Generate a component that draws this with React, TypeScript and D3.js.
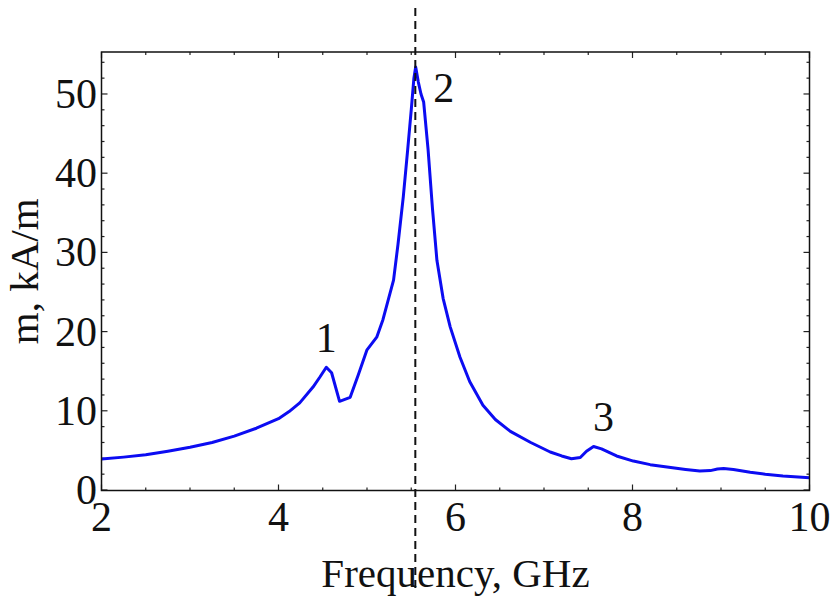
import React from "react";
import * as d3 from "d3";

const freq = [2.0, 2.25, 2.5, 2.75, 3.0, 3.25, 3.5, 3.75, 4.0, 4.12, 4.24, 4.39, 4.47, 4.54, 4.6, 4.69, 4.81, 4.9, 5.0, 5.11, 5.18, 5.24, 5.3, 5.35, 5.41, 5.46, 5.5, 5.53, 5.55, 5.58, 5.61, 5.64, 5.69, 5.74, 5.79, 5.86, 5.94, 6.05, 6.16, 6.31, 6.45, 6.62, 6.85, 7.07, 7.2, 7.31, 7.41, 7.48, 7.56, 7.65, 7.82, 8.01, 8.2, 8.39, 8.6, 8.76, 8.88, 8.96, 9.03, 9.14, 9.33, 9.5, 9.7, 10.0];
const mag = [3.9, 4.15, 4.45, 4.9, 5.4, 6.0, 6.8, 7.8, 9.0, 9.9, 11.0, 13.0, 14.3, 15.5, 14.8, 11.2, 11.7, 14.5, 17.7, 19.3, 21.5, 24.0, 26.5, 31.0, 37.0, 43.0, 48.0, 52.0, 53.4, 51.5, 50.0, 49.0, 43.0, 35.5, 29.0, 24.2, 20.6, 16.8, 13.7, 10.7, 8.9, 7.4, 6.0, 4.8, 4.3, 3.95, 4.1, 4.9, 5.5, 5.2, 4.3, 3.65, 3.2, 2.9, 2.6, 2.4, 2.45, 2.65, 2.7, 2.6, 2.25, 2.0, 1.77, 1.55];

const xTicks = [2, 4, 6, 8, 10];
const yTicks = [0, 10, 20, 30, 40, 50];
const peakLabels = ["1", "2", "3"];
const peakFreq = [4.54, 5.55, 7.56];
const peakVal = [15.5, 53.4, 5.5];
const resonance = 5.546;

const W = 835, H = 597;
const L = 101.5, R = 809.5, T = 52, B = 490.5;

export default function App() {
  const x = d3.scaleLinear().domain([2, 10]).range([L, R]);
  const y = d3.scaleLinear().domain([0, 55.3]).range([490, T]);
  const pts: [number, number][] = freq.map((f, i) => [f, mag[i]]);
  const line = d3.line<[number, number]>().x(d => x(d[0])).y(d => y(d[1]));
  const xMinor = d3.range(2, 10.001, 0.5);
  const yMinor = d3.range(0, 55, 2);
  const font = "'Liberation Serif', 'Times New Roman', serif";
  const labelOffsets = [[0, -15], [28, 35], [10, -15]];
  return (
    <svg width={W} height={H} style={{ position: "absolute", left: 0, top: 0, background: "#fff" }}>
      <g stroke="#222" strokeWidth={1.2}>
        {xMinor.map(v => {
          const major = Number.isInteger(v) && v % 2 === 0;
          const len = major ? 6 : 3;
          return (
            <g key={"xt" + v}>
              <line x1={x(v)} x2={x(v)} y1={B} y2={B - len} />
              <line x1={x(v)} x2={x(v)} y1={T} y2={T + len} />
            </g>
          );
        })}
        {yMinor.map(v => {
          const major = v % 10 === 0;
          const len = major ? 6 : 3;
          return (
            <g key={"yt" + v}>
              <line x1={L} x2={L + len} y1={y(v)} y2={y(v)} />
              <line x1={R} x2={R - len} y1={y(v)} y2={y(v)} />
            </g>
          );
        })}
      </g>
      <path d={line(pts) || ""} fill="none" stroke="#0c0cf2" strokeWidth={3} strokeLinejoin="round" />
      <rect x={L} y={T} width={R - L} height={B - T} fill="none" stroke="#111" strokeWidth={1.5} />
      <line x1={x(resonance)} x2={x(resonance)} y1={8} y2={592} stroke="#111" strokeWidth={2} strokeDasharray="8,5" />
      <g fontFamily={font} fontSize={42} fill="#111">
        {xTicks.map(v => (
          <text key={"xl" + v} x={x(v)} y={531} textAnchor="middle">{v}</text>
        ))}
        {yTicks.map(v => (
          <text key={"yl" + v} x={97} y={y(v) + 14} textAnchor="end">{v}</text>
        ))}
        {peakLabels.map((s, i) => (
          <text key={"pl" + s} x={x(peakFreq[i]) + labelOffsets[i][0]} y={y(peakVal[i]) + labelOffsets[i][1]} textAnchor="middle">{s}</text>
        ))}
      </g>
      <g fontFamily={font} fontSize={41} fill="#111">
        <text x={(L + R) / 2} y={587} textAnchor="middle">Frequency, GHz</text>
        <text transform={`translate(38, ${(T + B) / 2}) rotate(-90)`} textAnchor="middle">m, kA/m</text>
      </g>
    </svg>
  );
}
